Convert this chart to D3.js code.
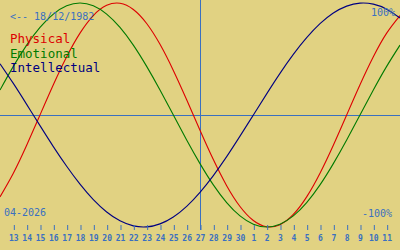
<!DOCTYPE html>
<html>
<head>
<meta charset="utf-8">
<script src="https://cdn.jsdelivr.net/npm/d3@7"></script>
<style>
  html, body { margin: 0; padding: 0; background: #e1d282; }
  svg { display: block; }
  text { font-family: "DejaVu Sans Mono", monospace; }
</style>
</head>
<body>
<div id="main"></div>
<script>
// day labels, index 0 = 12 April 2026 ... index 30 = 12 May 2026
const dayLabels = [12, 13, 14, 15, 16, 17, 18, 19, 20, 21, 22, 23, 24, 25, 26, 27, 28, 29, 30,
    1, 2, 3, 4, 5, 6, 7, 8, 9, 10, 11, 12];

// biorhythm values in percent, read per day
const physical = [-73.1, -52.0, -27.0, 0, 27.0, 52.0, 73.1, 88.8, 97.9, 99.8, 94.2, 81.7, 63.1, 39.8, 13.6,
    -13.6, -39.8, -63.1, -81.7, -94.2, -99.8, -97.9, -88.8, -73.1, -52.0, -27.0, 0, 27.0, 52.0, 73.1, 88.8];
const emotional = [22.3, 43.4, 62.4, 78.2, 90.1, 97.5, 100, 97.5, 90.1, 78.2, 62.4, 43.4, 22.3, 0, -22.3,
    -43.4, -62.4, -78.2, -90.1, -97.5, -100, -97.5, -90.1, -78.2, -62.4, -43.4, -22.3, 0, 22.3, 43.4, 62.4];
const intellectual = [45.8, 28.2, 9.5, -9.5, -28.2, -45.8, -61.8, -75.6, -86.6, -94.5, -99.0, -99.9, -97.2, -91.0, -81.5,
    -69.0, -54.1, -37.2, -18.9, 0, 18.9, 37.2, 54.1, 69.0, 81.5, 91.0, 97.2, 99.9, 99.0, 94.5, 86.6];

const series = [
    { name: 'Physical', values: physical, color: '#dd0000' },
    { name: 'Emotional', values: emotional, color: '#007a00' },
    { name: 'Intellectual', values: intellectual, color: '#000080' }
];

const todayIndex = 15;      // 27 April
const birthLabel = '<-- 18/12/1982';
const monthLabel = '04-2026';

const W = 400, H = 250, blue = '#3a70c0';

const x = d3.scaleLinear().domain([0, dayLabels.length - 1]).range([0, W]);
const y = d3.scaleLinear().domain([-100, 100]).range([227, 3]);

const svg = d3.select('#main').append('svg')
    .attr('width', W)
    .attr('height', H);

// zero line and today line
svg.append('line')
    .attr('x1', 0).attr('x2', W)
    .attr('y1', Math.round(y(0)) + 0.5).attr('y2', Math.round(y(0)) + 0.5)
    .attr('stroke', blue);

svg.append('line')
    .attr('x1', Math.round(x(todayIndex)) + 0.5).attr('x2', Math.round(x(todayIndex)) + 0.5)
    .attr('y1', 0).attr('y2', 230)
    .attr('stroke', blue);

// curves
const line = d3.line()
    .x((d, i) => x(i))
    .y(d => y(d))
    .curve(d3.curveNatural);

svg.selectAll('path.curve')
    .data(series)
    .enter()
    .append('path')
    .attr('class', 'curve')
    .attr('d', d => line(d.values))
    .attr('fill', 'none')
    .attr('stroke', d => d.color)
    .attr('stroke-width', 1.1);

// day axis
const tickIdx = d3.range(1, dayLabels.length - 1);
const axis = svg.append('g')
    .attr('transform', 'translate(0,225)')
    .call(d3.axisBottom(x).tickValues(tickIdx).tickSize(5).tickPadding(5)
        .tickFormat(i => dayLabels[i]));
axis.select('.domain').remove();
axis.selectAll('line').attr('stroke', blue).attr('transform', 'translate(0.5,0)');
axis.selectAll('text')
    .attr('fill', blue)
    .style('font-family', '"DejaVu Sans Mono", monospace')
    .style('font-size', '8px')
    .style('font-weight', 'bold');

// labels
svg.append('text')
    .attr('x', 10).attr('y', 20)
    .attr('fill', blue)
    .style('font-size', '10px')
    .text(birthLabel);

svg.selectAll('text.legend')
    .data(series)
    .enter()
    .append('text')
    .attr('class', 'legend')
    .attr('x', 10)
    .attr('y', (d, i) => 43 + i * 14.5)
    .attr('fill', d => d.color)
    .style('font-size', '12.5px')
    .text(d => d.name);

svg.append('text')
    .attr('x', 395).attr('y', 16)
    .attr('text-anchor', 'end')
    .attr('fill', blue)
    .style('font-size', '10px')
    .text('100%');

svg.append('text')
    .attr('x', 392).attr('y', 217)
    .attr('text-anchor', 'end')
    .attr('fill', blue)
    .style('font-size', '10px')
    .text('-100%');

svg.append('text')
    .attr('x', 4).attr('y', 216)
    .attr('fill', blue)
    .style('font-size', '10px')
    .text(monthLabel);
</script>
</body>
</html>
